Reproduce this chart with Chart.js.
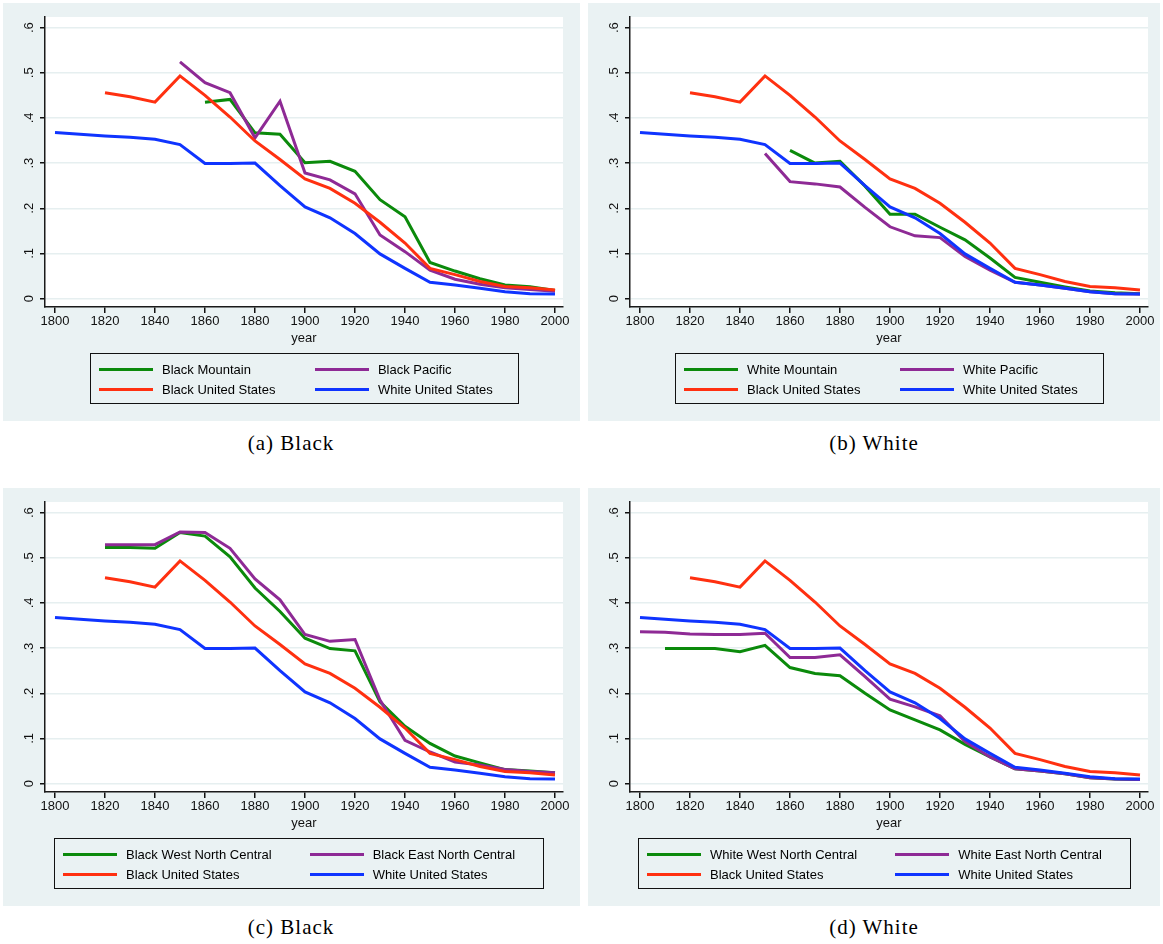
<!DOCTYPE html>
<html>
<head>
<meta charset="utf-8">
<script src="https://cdn.jsdelivr.net/npm/chart.js@4.4.1/dist/chart.umd.min.js"></script>
<style>
  html, body { margin: 0; padding: 0; background: #ffffff; }
  body { width: 1163px; height: 944px; position: relative; overflow: hidden;
         font-family: "Liberation Sans", Arial, Helvetica, sans-serif; color: #000; }
  .panel { position: absolute; background: #EAF2F3; height: 418px; }
  .panel canvas { position: absolute; left: 0; top: 0; }
  .legend { position: absolute; top: 350px; display: grid; grid-template-columns: 1fr 1fr;
            column-gap: 38px; padding: 5px 25px 4px 8px; border: 1px solid #111; }
  .item { display: flex; align-items: center; height: 20px; font-size: 13px; white-space: nowrap; }
  .swatch { width: 54px; height: 3px; margin-right: 9px; flex: none; }
  .caption { position: absolute; font-family: "Liberation Serif", "Times New Roman", serif;
             font-size: 21px; letter-spacing: 1px; line-height: 24px; transform: translateX(-50%);
             white-space: nowrap; }
</style>
</head>
<body>

<div class="panel" id="pa" style="left:3px; top:3px; width:577px;"><canvas id="ca" width="577" height="418"></canvas><div class="legend" id="la" style="left:87px;"></div></div>
<div class="panel" id="pb" style="left:588px; top:3px; width:572px;"><canvas id="cb" width="572" height="418"></canvas><div class="legend" id="lb" style="left:87px;"></div></div>
<div class="panel" id="pc" style="left:3px; top:488px; width:577px;"><canvas id="cc" width="577" height="418"></canvas><div class="legend" id="lc" style="left:51px;"></div></div>
<div class="panel" id="pd" style="left:588px; top:488px; width:572px;"><canvas id="cd" width="572" height="418"></canvas><div class="legend" id="ld" style="left:50px;"></div></div>

<div class="caption" style="left:291px; top:431px;">(a) Black</div>
<div class="caption" style="left:874px; top:431px;">(b) White</div>
<div class="caption" style="left:291px; top:915px;">(c) Black</div>
<div class="caption" style="left:874px; top:915px;">(d) White</div>

<script>
// Census years shared by every series
const years = [1800, 1810, 1820, 1830, 1840, 1850, 1860, 1870, 1880, 1890, 1900,
               1910, 1920, 1930, 1940, 1950, 1960, 1970, 1980, 1990, 2000];

// Axis ticks and their printed labels
const xTicks = [1800, 1820, 1840, 1860, 1880, 1900, 1920, 1940, 1960, 1980, 2000];
const xTickLabels = ['1800', '1820', '1840', '1860', '1880', '1900', '1920', '1940', '1960', '1980', '2000'];
const yTicks = [0, 0.1, 0.2, 0.3, 0.4, 0.5, 0.6];
const yTickLabels = ['0', '.1', '.2', '.3', '.4', '.5', '.6'];
const xTitle = 'year';

// National reference series
const whiteUS = [0.368, 0.364, 0.360, 0.357, 0.353, 0.341, 0.299, 0.299, 0.300, 0.250, 0.203,
                 0.179, 0.144, 0.099, 0.067, 0.036, 0.030, 0.023, 0.015, 0.011, 0.010];
const blackUS = [null, null, 0.456, 0.447, 0.435, 0.493, 0.450, 0.402, 0.349, 0.308, 0.265,
                 0.244, 0.211, 0.169, 0.123, 0.067, 0.053, 0.038, 0.027, 0.024, 0.019];

// Regional series
const blackMountain = [null, null, null, null, null, null, 0.435, 0.441, 0.367, 0.364, 0.301,
                       0.304, 0.282, 0.219, 0.181, 0.080, 0.061, 0.044, 0.030, 0.026, 0.018];
const blackPacific = [null, null, null, null, null, 0.524, 0.478, 0.456, 0.356, 0.437, 0.278,
                      0.263, 0.232, 0.141, 0.104, 0.063, 0.043, 0.032, 0.024, 0.020, 0.016];
const whiteMountain = [null, null, null, null, null, null, 0.328, 0.300, 0.304, 0.249, 0.187,
                       0.187, 0.158, 0.130, 0.090, 0.047, 0.036, 0.026, 0.017, 0.013, 0.011];
const whitePacific = [null, null, null, null, null, 0.321, 0.259, 0.254, 0.247, 0.202, 0.159,
                      0.139, 0.135, 0.093, 0.063, 0.036, 0.030, 0.023, 0.015, 0.011, 0.010];
const blackWNC = [null, null, 0.523, 0.523, 0.521, 0.556, 0.548, 0.502, 0.433, 0.381, 0.322,
                  0.299, 0.294, 0.181, 0.127, 0.089, 0.061, 0.046, 0.031, 0.028, 0.024];
const blackENC = [null, null, 0.529, 0.529, 0.529, 0.557, 0.556, 0.521, 0.453, 0.407, 0.330,
                  0.315, 0.319, 0.185, 0.096, 0.070, 0.048, 0.041, 0.031, 0.027, 0.024];
const whiteWNC = [null, 0.299, 0.299, 0.299, 0.292, 0.306, 0.257, 0.244, 0.239, 0.200, 0.163,
                  0.141, 0.119, 0.087, 0.059, 0.033, 0.028, 0.022, 0.013, 0.010, 0.009];
const whiteENC = [0.336, 0.335, 0.331, 0.330, 0.330, 0.333, 0.279, 0.279, 0.285, 0.237, 0.187,
                  0.170, 0.150, 0.093, 0.059, 0.033, 0.028, 0.022, 0.013, 0.010, 0.009];

const COLORS = { green: '#0B8A0B', purple: '#8E2A95', red: '#FF3010', blue: '#0F34FF' };
const FONT = '"Liberation Sans", Arial, Helvetica, sans-serif';

// White plotting region behind the lines
const plotBackground = {
  id: 'plotBackground',
  beforeDraw(chart) {
    const { ctx, chartArea: a } = chart;
    ctx.save();
    ctx.fillStyle = '#ffffff';
    ctx.fillRect(a.left, a.top, a.right - a.left, a.bottom - a.top);
    ctx.restore();
  }
};

// Vertical-axis labels written upright along the axis (read bottom to top)
const rotatedYLabels = {
  id: 'rotatedYLabels',
  afterDraw(chart) {
    const { ctx } = chart;
    const y = chart.scales.y;
    ctx.save();
    ctx.font = '13px ' + FONT;
    ctx.fillStyle = '#111';
    ctx.textAlign = 'center';
    ctx.textBaseline = 'middle';
    yTicks.forEach((v, i) => {
      const py = y.getPixelForValue(v);
      ctx.save();
      ctx.translate(y.right - 16, py);
      ctx.rotate(-Math.PI / 2);
      ctx.fillText(yTickLabels[i], 0, 0);
      ctx.restore();
    });
    ctx.restore();
  }
};

function toPoints(values) {
  return years.map((yr, i) => ({ x: yr, y: values[i] }));
}

function buildLegend(el, series) {
  series.forEach(s => {
    const item = document.createElement('div');
    item.className = 'item';
    const sw = document.createElement('span');
    sw.className = 'swatch';
    sw.style.background = s.color;
    const tx = document.createElement('span');
    tx.textContent = s.label;
    item.appendChild(sw);
    item.appendChild(tx);
    el.appendChild(item);
  });
}

function makeChart(canvasId, legendId, panelWidth, series) {
  buildLegend(document.getElementById(legendId), series);
  const n = series.length;
  new Chart(document.getElementById(canvasId), {
    type: 'line',
    data: {
      datasets: series.map((s, i) => ({
        label: s.label,
        data: toPoints(s.values),
        borderColor: s.color,
        backgroundColor: s.color,
        borderWidth: 3,
        pointRadius: 0,
        tension: 0,
        fill: false,
        order: n - i
      }))
    },
    options: {
      responsive: false,
      animation: false,
      devicePixelRatio: 1,
      layout: { padding: { top: 14, right: panelWidth - 560, bottom: 75, left: 0 } },
      plugins: { legend: { display: false }, tooltip: { enabled: false } },
      scales: {
        x: {
          type: 'linear',
          min: 1796,
          max: 2003.2,
          afterBuildTicks: sc => { sc.ticks = xTicks.map(v => ({ value: v })); },
          afterFit: sc => { sc.height = 39; },
          ticks: {
            font: { family: FONT, size: 13 },
            color: '#111',
            padding: 1,
            maxRotation: 0,
            autoSkip: false,
            callback: v => xTickLabels[xTicks.indexOf(v)]
          },
          grid: { display: true, drawOnChartArea: false, drawTicks: true, tickLength: 6,
                  tickColor: '#111', lineWidth: 1.5 },
          border: { display: true, color: '#1a1a1a', width: 1.5 },
          title: { display: true, text: xTitle, font: { family: FONT, size: 13 },
                   color: '#111', padding: 0 }
        },
        y: {
          type: 'linear',
          min: -0.0186,
          max: 0.6235,
          afterBuildTicks: sc => { sc.ticks = yTicks.map(v => ({ value: v })); },
          afterFit: sc => { sc.width = 42; },
          ticks: { display: false },
          grid: { display: true, drawOnChartArea: true, drawTicks: true, tickLength: 5,
                  color: '#E6EFF0', tickColor: '#111', lineWidth: 1.5 },
          border: { display: true, color: '#1a1a1a', width: 1.5 }
        }
      }
    },
    plugins: [plotBackground, rotatedYLabels]
  });
}

makeChart('ca', 'la', 577, [
  { label: 'Black Mountain', values: blackMountain, color: COLORS.green },
  { label: 'Black Pacific', values: blackPacific, color: COLORS.purple },
  { label: 'Black United States', values: blackUS, color: COLORS.red },
  { label: 'White United States', values: whiteUS, color: COLORS.blue }
]);
makeChart('cb', 'lb', 572, [
  { label: 'White Mountain', values: whiteMountain, color: COLORS.green },
  { label: 'White Pacific', values: whitePacific, color: COLORS.purple },
  { label: 'Black United States', values: blackUS, color: COLORS.red },
  { label: 'White United States', values: whiteUS, color: COLORS.blue }
]);
makeChart('cc', 'lc', 577, [
  { label: 'Black West North Central', values: blackWNC, color: COLORS.green },
  { label: 'Black East North Central', values: blackENC, color: COLORS.purple },
  { label: 'Black United States', values: blackUS, color: COLORS.red },
  { label: 'White United States', values: whiteUS, color: COLORS.blue }
]);
makeChart('cd', 'ld', 572, [
  { label: 'White West North Central', values: whiteWNC, color: COLORS.green },
  { label: 'White East North Central', values: whiteENC, color: COLORS.purple },
  { label: 'Black United States', values: blackUS, color: COLORS.red },
  { label: 'White United States', values: whiteUS, color: COLORS.blue }
]);
</script>
</body>
</html>
